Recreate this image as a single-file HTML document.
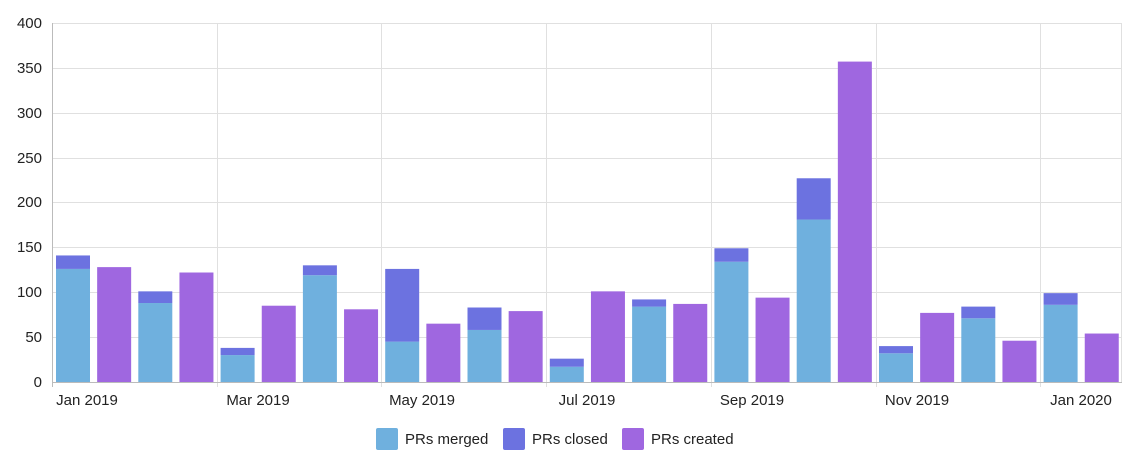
<!DOCTYPE html>
<html><head><meta charset="utf-8"><style>
body{margin:0;background:#fff;font-family:"Liberation Sans",sans-serif}
</style></head><body>
<svg width="1134" height="455" xmlns="http://www.w3.org/2000/svg" font-family="Liberation Sans, sans-serif" font-size="14" fill="#222">
<g stroke="#e0e0e0" stroke-width="1">
<line x1="52" y1="23.5" x2="1122" y2="23.5"/>
<line x1="52" y1="68.5" x2="1122" y2="68.5"/>
<line x1="52" y1="113.5" x2="1122" y2="113.5"/>
<line x1="52" y1="158.5" x2="1122" y2="158.5"/>
<line x1="52" y1="202.5" x2="1122" y2="202.5"/>
<line x1="52" y1="247.5" x2="1122" y2="247.5"/>
<line x1="52" y1="292.5" x2="1122" y2="292.5"/>
<line x1="52" y1="337.5" x2="1122" y2="337.5"/>
<line x1="217.5" y1="23" x2="217.5" y2="387"/>
<line x1="381.5" y1="23" x2="381.5" y2="387"/>
<line x1="546.5" y1="23" x2="546.5" y2="387"/>
<line x1="711.5" y1="23" x2="711.5" y2="387"/>
<line x1="876.5" y1="23" x2="876.5" y2="387"/>
<line x1="1040.5" y1="23" x2="1040.5" y2="387"/>
<line x1="1121.5" y1="23" x2="1121.5" y2="382"/>
</g>
<line x1="52.5" y1="23" x2="52.5" y2="387" stroke="#bbb"/>
<line x1="52" y1="382.5" x2="1122" y2="382.5" stroke="#bbb"/>
<g text-anchor="end" font-size="15">
<text x="42" y="28">400</text><text x="42" y="73">350</text><text x="42" y="118">300</text><text x="42" y="163">250</text><text x="42" y="207">200</text><text x="42" y="252">150</text><text x="42" y="297">100</text><text x="42" y="342">50</text><text x="42" y="387">0</text>
</g>
<g text-anchor="middle" font-size="15">
<text x="87" y="405">Jan 2019</text><text x="258" y="405">Mar 2019</text><text x="422" y="405">May 2019</text><text x="587" y="405">Jul 2019</text><text x="752" y="405">Sep 2019</text><text x="917" y="405">Nov 2019</text><text x="1081" y="405">Jan 2020</text>
</g>
<g id="bars"></g>
<rect x="376" y="428" width="22" height="22" fill="#6fb0de" rx="2"/><text x="405" y="444" font-size="15">PRs merged</text>
<rect x="503" y="428" width="22" height="22" fill="#6c72e0" rx="2"/><text x="532" y="444" font-size="15">PRs closed</text>
<rect x="622" y="428" width="22" height="22" fill="#9f67e0" rx="2"/><text x="651" y="444" font-size="15">PRs created</text>
</svg>
<script>
var d=[[126,141],128,[88,101],122,[30,38],85,[119,130],81,[45,126],65,[58,83],79,[17,26],101,[84,92],87,[134,149],94,[181,227],357,[32,40],77,[71,84],46,[86,99],54];
var g=document.getElementById('bars'),s='',k=0.8975;
function r(x,v0,v1,c){var y1=382-v1*k,y0=382-v0*k;return '<rect x="'+x+'" y="'+y1+'" width="34" height="'+(y0-y1)+'" fill="'+c+'"/>';}
d.forEach(function(v,i){var x=56+i*41.15;if(Array.isArray(v)){s+=r(x,0,v[0],'#6fb0de')+r(x,v[0],v[1],'#6c72e0');}else s+=r(x,0,v,'#9f67e0');});
g.innerHTML=s;
</script>
</body></html>
